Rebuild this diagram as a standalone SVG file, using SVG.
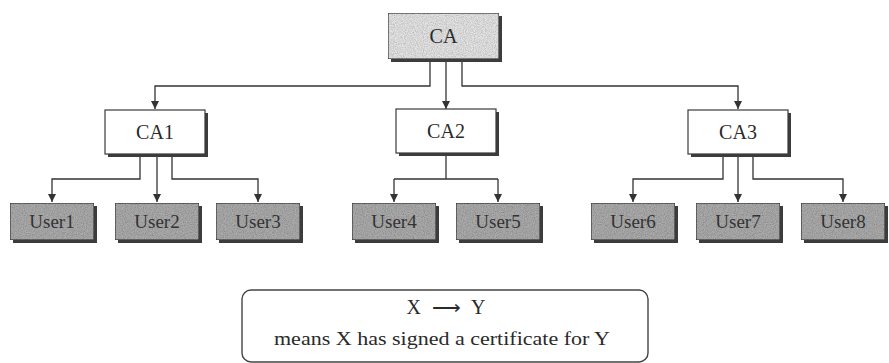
<svg xmlns="http://www.w3.org/2000/svg" width="889" height="363" viewBox="0 0 889 363">
<style>
  .lbl{font-family:"Liberation Serif","Times New Roman",serif;font-size:20px;fill:#2a2a2a;text-anchor:middle}
  .ulbl{font-family:"Liberation Serif","Times New Roman",serif;font-size:19px;fill:#333;text-anchor:middle}
  .box{stroke:#3a3a3a;stroke-width:1.2}
  .shadow{fill:#3c3c3c}
  .ca{fill:#e4e4e4}
  .user{fill:#ababab}
  .sub{fill:#ffffff}
  .conn{fill:none;stroke:#333;stroke-width:1.3}
  .legend{font-family:"Liberation Serif","Times New Roman",serif;fill:#2a2a2a;text-anchor:middle}
</style>
<defs>
  <marker id="ah" markerWidth="10" markerHeight="10" refX="8" refY="4" orient="auto" markerUnits="userSpaceOnUse">
    <path d="M0,0 L8,4 L0,8 Z" fill="#333"/>
  </marker>
  <filter id="grain" x="0" y="0" width="100%" height="100%">
    <feTurbulence type="fractalNoise" baseFrequency="0.9" numOctaves="2" seed="4" result="n"/>
    <feColorMatrix in="n" type="matrix" values="0 0 0 0 0  0 0 0 0 0  0 0 0 0 0  0.7 0 0 0 -0.22" result="na"/>
    <feComposite in="na" in2="SourceGraphic" operator="in" result="nc"/>
    <feMerge><feMergeNode in="SourceGraphic"/><feMergeNode in="nc"/></feMerge>
  </filter>
</defs>
<rect width="889" height="363" fill="#ffffff"/>

<g id="connectors">
  <polyline class="conn" points="430,59 430,86 155,86 155,109" marker-end="url(#ah)"/>
  <polyline class="conn" points="446,59 446,109" marker-end="url(#ah)"/>
  <polyline class="conn" points="462,59 462,86 738,86 738,109" marker-end="url(#ah)"/>

  <polyline class="conn" points="140,154 140,179 52,179 52,202" marker-end="url(#ah)"/>
  <polyline class="conn" points="157,154 157,202" marker-end="url(#ah)"/>
  <polyline class="conn" points="172,154 172,179 258,179 258,202" marker-end="url(#ah)"/>

  <polyline class="conn" points="446,153 446,179"/>
  <polyline class="conn" points="394,179 394,202" marker-end="url(#ah)"/>
  <polyline class="conn" points="498,179 498,202" marker-end="url(#ah)"/>
  <line class="conn" x1="394" y1="179" x2="498" y2="179"/>

  <polyline class="conn" points="723,154 723,179 633,179 633,202" marker-end="url(#ah)"/>
  <polyline class="conn" points="738,154 738,202" marker-end="url(#ah)"/>
  <polyline class="conn" points="753,154 753,179 843,179 843,202" marker-end="url(#ah)"/>
</g>

<g id="CA">
  <rect class="shadow" x="391" y="16" width="111" height="46"/>
  <rect class="box ca" x="388" y="13" width="111" height="46" filter="url(#grain)"/>
  <text class="lbl" x="443.5" y="43">CA</text>
</g>

<g id="CA1">
  <rect class="shadow" x="108" y="113" width="100" height="44"/>
  <rect class="box sub" x="105" y="110" width="100" height="44"/>
  <text class="lbl" x="155" y="139">CA1</text>
</g>
<g id="CA2">
  <rect class="shadow" x="399" y="112" width="100" height="44"/>
  <rect class="box sub" x="396" y="109" width="100" height="44"/>
  <text class="lbl" x="446" y="138">CA2</text>
</g>
<g id="CA3">
  <rect class="shadow" x="691" y="113" width="100" height="44"/>
  <rect class="box sub" x="688" y="110" width="100" height="44"/>
  <text class="lbl" x="738" y="139">CA3</text>
</g>

<g id="User1">
  <rect class="shadow" x="13" y="206" width="84" height="37"/>
  <rect class="box user" x="10" y="203" width="84" height="37" filter="url(#grain)"/>
  <text class="ulbl" x="52" y="228">User1</text>
</g>
<g id="User2">
  <rect class="shadow" x="118" y="206" width="84" height="37"/>
  <rect class="box user" x="115" y="203" width="84" height="37" filter="url(#grain)"/>
  <text class="ulbl" x="157" y="228">User2</text>
</g>
<g id="User3">
  <rect class="shadow" x="219" y="206" width="84" height="37"/>
  <rect class="box user" x="216" y="203" width="84" height="37" filter="url(#grain)"/>
  <text class="ulbl" x="258" y="228">User3</text>
</g>
<g id="User4">
  <rect class="shadow" x="355" y="206" width="84" height="37"/>
  <rect class="box user" x="352" y="203" width="84" height="37" filter="url(#grain)"/>
  <text class="ulbl" x="394" y="228">User4</text>
</g>
<g id="User5">
  <rect class="shadow" x="459" y="206" width="84" height="37"/>
  <rect class="box user" x="456" y="203" width="84" height="37" filter="url(#grain)"/>
  <text class="ulbl" x="498" y="228">User5</text>
</g>
<g id="User6">
  <rect class="shadow" x="594" y="206" width="84" height="37"/>
  <rect class="box user" x="591" y="203" width="84" height="37" filter="url(#grain)"/>
  <text class="ulbl" x="633" y="228">User6</text>
</g>
<g id="User7">
  <rect class="shadow" x="699" y="206" width="84" height="37"/>
  <rect class="box user" x="696" y="203" width="84" height="37" filter="url(#grain)"/>
  <text class="ulbl" x="738" y="228">User7</text>
</g>
<g id="User8">
  <rect class="shadow" x="804" y="206" width="84" height="37"/>
  <rect class="box user" x="801" y="203" width="84" height="37" filter="url(#grain)"/>
  <text class="ulbl" x="843" y="228">User8</text>
</g>

<g id="legend">
  <rect x="242" y="290" width="406" height="72" rx="9" ry="9" fill="#ffffff" stroke="#444" stroke-width="1.4"/>
  <text class="legend" x="446" y="314" font-size="20" word-spacing="6">X ⟶ Y</text>
  <text class="legend" x="442" y="345" font-size="18" textLength="336" lengthAdjust="spacingAndGlyphs">means X has signed a certificate for Y</text>
</g>
</svg>
